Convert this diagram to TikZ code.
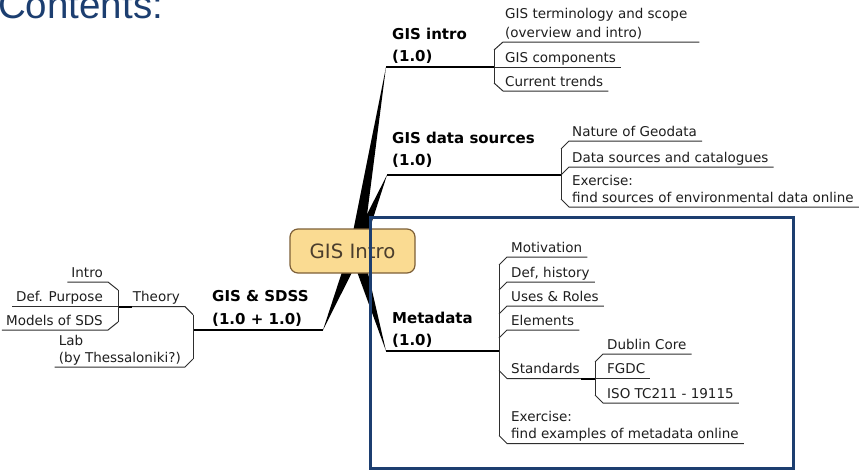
\documentclass[tikz,border=0pt]{standalone}
\usepackage{fontspec}
\setmainfont{DejaVu Sans}
\newfontfamily\headfont{Liberation Sans}
\usepackage{tikz}
\usetikzlibrary{calc}
\definecolor{navy}{RGB}{28,62,112}
\definecolor{topicfill}{RGB}{250,219,146}
\definecolor{topicdraw}{RGB}{125,95,55}
\definecolor{topictext}{RGB}{75,62,45}
\definecolor{inkgray}{RGB}{30,30,30}

\begin{document}
\begin{tikzpicture}[x=1pt,y=-1pt,
    item/.style={font=\fontsize{13.5}{16}\selectfont, text=inkgray, inner sep=0pt, anchor=base west},
    itemr/.style={item, anchor=base east},
    branch/.style={font=\fontsize{15}{17}\selectfont\bfseries, text=black, inner sep=0pt, anchor=base west},
    twig/.style={draw=black!82, line width=1pt},
    limb/.style={draw=black, line width=1.2pt},
    knot/.style={draw=black, line width=2pt},
    topic/.style={draw=topicdraw, fill=topicfill, rounded corners=8pt, line width=1.2pt,
      minimum width=125pt, minimum height=44pt, text=topictext, font=\fontsize{19.7}{22}\selectfont}]
    \useasboundingbox (0,0) rectangle (866,472);
    \node[font={\headfont\fontsize{38.5}{40}\selectfont}, text=navy, inner sep=0pt, anchor=base west] (title) at (-2,18) {Contents:};

    % spikes from the centre
    \coordinate (hub) at (356,250);
    \coordinate (tipIntro) at (386,67);
    \coordinate (tipData) at (387,175);
    \coordinate (tipMeta) at (386,351);
    \coordinate (tipSdss) at (323,330);
    \fill ($(hub)!6.5pt!90:(tipIntro)$) -- (tipIntro) -- ($(hub)!6.5pt!-90:(tipIntro)$) -- cycle;
    \fill ($(hub)!6.5pt!90:(tipData)$) -- (tipData) -- ($(hub)!6.5pt!-90:(tipData)$) -- cycle;
    \fill ($(hub)!6.5pt!90:(tipMeta)$) -- (tipMeta) -- ($(hub)!6.5pt!-90:(tipMeta)$) -- cycle;
    \fill ($(hub)!6.5pt!90:(tipSdss)$) -- (tipSdss) -- ($(hub)!6.5pt!-90:(tipSdss)$) -- cycle;
    \node[topic] (gis) at (352.5,251) {GIS Intro};

    % GIS intro
    \node[branch] (intro) at (392,39) {GIS intro};
    \node[branch] (intro1) at (392,61) {(1.0)};
    \coordinate (sIntro) at (494,67);
    \draw[limb] (tipIntro) -- (sIntro);
    \draw[knot] ($(sIntro)+(-14,0)$) -- (sIntro);
    \node[item] (term) at (505,18.5) {GIS terminology and scope};
    \node[item] (ovw) at (505,37) {(overview and intro)};
    \node[item] (comp) at (505,62) {GIS components};
    \node[item] (trend) at (505,86) {Current trends};
    \coordinate (iTop) at ($(ovw.base west)+(-11,13)$);
    \coordinate (iBot) at ($(trend.base west)+(-11,-3)$);
    \draw[twig] (iTop) -- ($(ovw.base west)+(-2,5)$) -- ($(term.base east |- ovw.base)+(12,5)$);
    \draw[twig] (sIntro) -- ($(comp.base east)+(5,5)$);
    \draw[twig] (iBot) -- ($(trend.base west)+(-2,5)$) -- ($(trend.base east)+(5,5)$);
    \draw[twig] (iTop) -- (iBot);

    % GIS data sources
    \node[branch] (data) at (392,143) {GIS data sources};
    \node[branch] (data1) at (392,165) {(1.0)};
    \coordinate (sData) at (561,175);
    \draw[limb] (tipData) -- (sData);
    \draw[knot] ($(sData)+(-14,0)$) -- (sData);
    \node[item] (geo) at (572,136) {Nature of Geodata};
    \node[item] (cat) at (572,162) {Data sources and catalogues};
    \node[item] (exa) at (572,185) {Exercise:};
    \node[item] (exb) at (572,202) {find sources of environmental data online};
    \coordinate (dTop) at ($(geo.base west)+(-11,13)$);
    \coordinate (dBot) at ($(exb.base west)+(-11,-3)$);
    \draw[twig] (dTop) -- ($(geo.base west)+(-3,5)$) -- ($(geo.base east)+(5,5)$);
    \draw[twig] (sData) -- ($(cat.base west)+(-3,5)$) -- ($(cat.base east)+(5,5)$);
    \draw[twig] (dBot) -- ($(exb.base west)+(-3,5)$) -- ($(exb.base east)+(5,5)$);
    \draw[twig] (dTop) -- (dBot);

    % Metadata
    \node[branch] (meta) at (392,323) {Metadata};
    \node[branch] (meta1) at (392,345) {(1.0)};
    \coordinate (sMeta) at (499,351);
    \draw[limb] (tipMeta) -- (sMeta);
    \draw[knot] ($(sMeta)+(-14,0)$) -- (sMeta);
    \node[item] (mot) at (511,252) {Motivation};
    \node[item] (defh) at (511,277) {Def, history};
    \node[item] (uses) at (511,301) {Uses \& Roles};
    \node[item] (elem) at (511,325) {Elements};
    \node[item] (std) at (511,373.5) {Standards};
    \node[item] (exc) at (511,421.5) {Exercise:};
    \node[item] (exd) at (511,438.5) {find examples of metadata online};
    \coordinate (mTop) at ($(mot.base west)+(-12,13)$);
    \coordinate (mBot) at ($(exd.base west)+(-12,-3)$);
    \draw[twig] (mTop) -- ($(mot.base west)+(-4,5)$) -- ($(mot.base east)+(5,5)$);
    \draw[twig] ($(defh.base west)+(-12,13)$) -- ($(defh.base west)+(-4,5)$) -- ($(defh.base east)+(5,5)$);
    \draw[twig] ($(uses.base west)+(-12,13)$) -- ($(uses.base west)+(-4,5)$) -- ($(uses.base east)+(5,5)$);
    \draw[twig] ($(elem.base west)+(-12,13)$) -- ($(elem.base west)+(-4,5)$) -- ($(elem.base east)+(5,5)$);
    \draw[twig] (mBot) -- ($(exd.base west)+(-4,5)$) -- ($(exd.base east)+(5,5)$);
    \draw[twig] (mTop) -- (mBot);

    % Standards
    \coordinate (sStd) at (595,378.5);
    \draw[twig] ($(std.base west)+(-12,-3)$) -- ($(std.base west)+(-4,5)$) -- (sStd);
    \draw[knot] ($(sStd)+(-14,0)$) -- (sStd);
    \node[item] (dub) at (607,349) {Dublin Core};
    \node[item] (fgdc) at (607,373.5) {FGDC};
    \node[item] (iso) at (607,398) {ISO TC211 - 19115};
    \coordinate (sTop) at ($(dub.base west)+(-12,13)$);
    \coordinate (sBot) at ($(iso.base west)+(-12,-3)$);
    \draw[twig] (sTop) -- ($(dub.base west)+(-4,5)$) -- ($(dub.base east)+(5,5)$);
    \draw[twig] (sStd) -- ($(fgdc.base east)+(5,5)$);
    \draw[twig] (sBot) -- ($(iso.base west)+(-4,5)$) -- ($(iso.base east)+(5,5)$);
    \draw[twig] (sTop) -- (sBot);

    % GIS & SDSS
    \node[branch] (sdss) at (212,301.7) {GIS \& SDSS};
    \node[branch] (sdss1) at (212,324) {(1.0 + 1.0)};
    \coordinate (sSdss) at (193,330);
    \draw[limb] (tipSdss) -- (sSdss);
    \draw[knot] ($(sSdss)+(14,0)$) -- (sSdss);
    \node[itemr] (theory) at (180,301.7) {Theory};
    \node[itemr] (thes) at (181,362) {(by Thessaloniki?)};
    \node[item] (lab) at ($(thes.base west)+(0,-17)$) {Lab};
    \coordinate (sTheory) at (118,306.7);
    \coordinate (lTop) at ($(theory.base east)+(13,13)$);
    \coordinate (lBot) at ($(thes.base east)+(12,-3)$);
    \draw[twig] (lTop) -- ($(theory.base east)+(5,5)$) -- (sTheory);
    \draw[twig] (lBot) -- ($(thes.base east)+(4,5)$) -- ($(thes.base west)+(-4,5)$);
    \draw[twig] (lTop) -- (lBot);

    % Theory
    \draw[knot] ($(sTheory)+(14,0)$) -- (sTheory);
    \node[itemr] (intr) at (103,277) {Intro};
    \node[itemr] (defp) at (103,301.7) {Def. Purpose};
    \node[itemr] (mods) at (103,325) {Models of SDS};
    \coordinate (tTop) at ($(intr.base east)+(15,13)$);
    \coordinate (tBot) at ($(mods.base east)+(15,-3)$);
    \draw[twig] (tTop) -- ($(intr.base east)+(5,5)$) -- ($(intr.base west)+(-4,5)$);
    \draw[twig] (sTheory) -- ($(defp.base west)+(-4,5)$);
    \draw[twig] (tBot) -- ($(mods.base east)+(5,5)$) -- ($(mods.base west)+(-4,5)$);
    \draw[twig] (tTop) -- (tBot);

    % Metadata frame
    \draw[navy, line width=3pt] (370,217) rectangle (793,468);
\end{tikzpicture}
\end{document}
